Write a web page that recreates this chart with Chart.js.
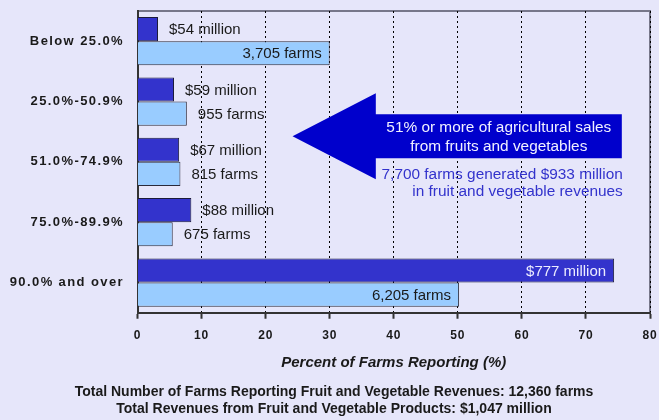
<!DOCTYPE html>
<html>
<head>
<meta charset="utf-8">
<script src="https://cdn.jsdelivr.net/npm/chart.js@4/dist/chart.umd.min.js"></script>
<style>
  html, body { margin: 0; padding: 0; background: #E6E6FA; }
  canvas { display: block; }
</style>
</head>
<body>
<canvas id="chart" width="659" height="420"></canvas>
<script>
// share of farm fruit & vegetable sales, by group
const categories = ['Below 25.0%', '25.0%-50.9%', '51.0%-74.9%', '75.0%-89.9%', '90.0% and over'];
const revenueShare = [3.2, 5.7, 6.5, 8.4, 74.4];   // % of revenues
const farmShare = [30.0, 7.7, 6.7, 5.5, 50.2];     // % of farms
const revenueLabels = ['$54 million', '$59 million', '$67 million', '$88 million', '$777 million'];
const farmLabels = ['3,705 farms', '955 farms', '815 farms', '675 farms', '6,205 farms'];
const xMin = 0, xMax = 80, xStep = 10;
const xTitle = 'Percent of Farms Reporting (%)';
const footerLines = [
  'Total Number of Farms Reporting Fruit and Vegetable Revenues: 12,360 farms',
  'Total Revenues from Fruit and Vegetable Products: $1,047 million'
];
const calloutLines = ['51% or more of agricultural sales', 'from fruits and vegetables'];
const noteLines = ['7,700 farms generated $933 million', 'in fruit and vegetable revenues'];

const FONT = '"Liberation Sans", Arial, Helvetica, sans-serif';
const DARK = '#3333CC', LIGHT = '#99CCFF', ARROW = '#0000CC', INK = '#1a1a1a';

// letter spaced tick labels (canvas letterSpacing), no label clipping
const spacedTicks = {
  id: 'spacedTicks',
  beforeDraw(chart) {
    [['y', '1.4px'], ['x', '0.8px']].forEach(function(p) {
      const s = chart.scales[p[0]];
      if (!s || s._spaced) return;
      const orig = s.drawLabels.bind(s);
      s._computeLabelArea = function() { return undefined; };
      s.drawLabels = function(area) {
        const c = this.ctx;
        c.save();
        c.letterSpacing = p[1];
        orig(area);
        c.restore();
      };
      s._spaced = true;
    });
  }
};

// grey frame on top and right of plot area
const frame = {
  id: 'frame',
  beforeDraw(chart) {
    const a = chart.chartArea, c = chart.ctx;
    c.save();
    c.strokeStyle = '#77778a';
    c.lineWidth = 2;
    c.beginPath();
    c.moveTo(a.left, a.top);
    c.lineTo(a.right, a.top);
    c.lineTo(a.right, a.bottom);
    c.stroke();
    c.restore();
  }
};

// value labels next to / inside the bars
const barLabels = {
  id: 'barLabels',
  afterDatasetsDraw(chart) {
    const c = chart.ctx;
    c.save();
    c.font = '15px ' + FONT;
    c.textBaseline = 'middle';
    chart.data.datasets.forEach(function(ds, i) {
      const meta = chart.getDatasetMeta(i);
      meta.data.forEach(function(bar, j) {
        const inside = ds.data[j] > 20;
        c.fillStyle = (inside && i === 0) ? '#ECECFF' : INK;
        c.textAlign = inside ? 'right' : 'left';
        const x = inside ? bar.x - 8 : bar.x + 11;
        c.fillText(ds.labelsText[j], x, bar.y + 1);
      });
    });
    c.restore();
  }
};

// big arrow pointing at the 51%+ groups
const callout = {
  id: 'callout',
  afterDatasetsDraw(chart) {
    const xs = chart.scales.x, ys = chart.scales.y, c = chart.ctx;
    const tip = xs.getPixelForValue(24.2);
    const neck = xs.getPixelForValue(37.2);
    const tail = xs.getPixelForValue(75.6);
    const cy = ys.getPixelForValue(1.575);
    const head = 43, shaft = 22;
    c.save();
    c.fillStyle = ARROW;
    c.beginPath();
    c.moveTo(tip, cy);
    c.lineTo(neck, cy - head);
    c.lineTo(neck, cy - shaft);
    c.lineTo(tail, cy - shaft);
    c.lineTo(tail, cy + shaft);
    c.lineTo(neck, cy + shaft);
    c.lineTo(neck, cy + head);
    c.closePath();
    c.fill();

    c.font = '15.4px ' + FONT;
    c.textBaseline = 'middle';
    c.textAlign = 'center';
    c.fillStyle = '#F0F0FF';
    const mid = (neck + tail) / 2;
    c.fillText(calloutLines[0], mid, cy - 8);
    c.fillText(calloutLines[1], mid, cy + 10.5);

    c.textAlign = 'right';
    c.fillStyle = DARK;
    c.fillText(noteLines[0], tail + 1, cy + 39);
    c.fillText(noteLines[1], tail + 1, cy + 56);
    c.restore();
  }
};

new Chart(document.getElementById('chart'), {
  type: 'bar',
  data: {
    labels: categories,
    datasets: [
      { label: 'Revenues', data: revenueShare, labelsText: revenueLabels,
        backgroundColor: DARK, borderColor: '#1c1c3a', borderWidth: 1 },
      { label: 'Farms', data: farmShare, labelsText: farmLabels,
        backgroundColor: LIGHT, borderColor: '#2a2a3a', borderWidth: 1 }
    ]
  },
  options: {
    indexAxis: 'y',
    responsive: false,
    animation: false,
    barPercentage: 1.0,
    categoryPercentage: 0.8,
    layout: { padding: { top: 11, right: 9, left: 18, bottom: 0 } },
    plugins: {
      legend: { display: false },
      tooltip: { enabled: false },
      title: {
        display: true,
        position: 'bottom',
        text: footerLines,
        color: INK,
        font: { family: FONT, size: 14, weight: 'bold', lineHeight: 1.22 },
        padding: { top: 4, bottom: 2 }
      }
    },
    scales: {
      x: {
        min: xMin, max: xMax,
        ticks: { stepSize: xStep, color: INK, padding: 10,
                 font: { family: FONT, size: 12, weight: 'bold' } },
        grid: { color: '#000', lineWidth: 1, drawTicks: true, tickLength: 6,
                tickColor: '#333', tickWidth: 2 },
        border: { color: '#333', width: 2, dash: [2, 3] },
        title: { display: true, text: xTitle, color: INK,
                 font: { family: FONT, size: 15, weight: 'bold', style: 'italic' },
                 padding: { top: 0, bottom: 7.8 } },
        afterFit: function(s) { s.height = 67.1; s.paddingLeft = 0; s.paddingRight = 0; }
      },
      y: {
        ticks: { color: INK, padding: 13.5,
                 font: { family: FONT, size: 13, weight: 'bold' } },
        grid: { display: false, drawTicks: false },
        border: { color: '#333', width: 2 },
        afterFit: function(s) { s.width = 119.5; s.paddingTop = 0; s.paddingBottom = 0; }
      }
    }
  },
  plugins: [spacedTicks, frame, barLabels, callout]
});
</script>
</body>
</html>
